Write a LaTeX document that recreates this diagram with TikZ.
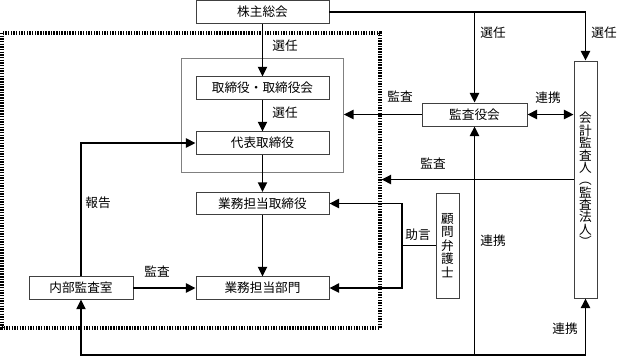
\documentclass[tikz,border=0pt]{standalone}
\usepackage{fontspec}
\setmainfont{Noto Sans CJK JP}
\usetikzlibrary{arrows.meta,fit}

\begin{document}
\begin{tikzpicture}[
  x=0.025cm, y=-0.025cm,
  >={Triangle[length=2.4mm,width=2.3mm]},
  font=\fontsize{9}{11}\selectfont,
  box/.style={draw=black!75,line width=.5pt,inner sep=0,
    minimum width=3.33cm,minimum height=.56cm},
  vbox/.style={draw=black!75,line width=.5pt,inner sep=0,
    minimum width=.58cm,align=center},
  link/.style={line width=1.1pt},
  group/.style={draw=black!50,line width=.6pt,inner xsep=.35cm,inner ysep=.45cm},
  company/.style={line width=2.2pt,dash pattern=on 1pt off .9pt},
  note/.style={inner sep=0},
]
  \def\ybot{355}
  \useasboundingbox (0,0) rectangle (617,358);
  \node[box] (agm) at (262.5,12) {株主総会};
  \node[box] (board) at (262.5,88) {取締役・取締役会};
  \node[box] (rep) at (262.5,143) {代表取締役};
  \node[box] (exec) at (262.5,203.5) {業務担当取締役};
  \node[box] (dept) at (262.5,288) {業務担当部門};
  \node[box,minimum width=2.6cm] (audit) at (81,288) {内部監査室};
  \node[box,minimum width=2.63cm,minimum height=.58cm] (kansa) at (474.5,114.5) {監査役会};
  \node[vbox,minimum height=5.93cm,font=\fontsize{9}{8.8}\selectfont] (acct) at (585.5,179.5)
    {会\\計\\監\\査\\人\\︵\\監\\査\\法\\人\\︶};
  \node[vbox,minimum height=2.63cm,font=\fontsize{9}{9.6}\selectfont] (lawyer) at (447.5,245.5)
    {顧\\問\\弁\\護\\士};
  \node[group,fit=(board)(rep)] (grp) {};
  \draw[company] (2,33) rectangle (380,328);
  \coordinate (coE) at (381.5,0);
  \coordinate (adv) at (402,245.5);

  \draw[link,->] (agm) -- (board);
  \draw[link,->] (board) -- (rep);
  \draw[link,->] (rep) -- (exec);
  \draw[link,->] (exec) -- (dept);
  \draw[link,->] (agm.east) -- (acct.north |- agm.east) -- (acct.north);
  \draw[link,->] (kansa.north |- agm.east) -- (kansa.north);
  \draw[link,->] (kansa.west) -- (grp.east |- kansa.west);
  \draw[link,<->] (kansa.east) -- (acct.west |- kansa.east);
  \draw[link,->] (acct.west) -- (coE |- acct.west);
  \draw[link,<->] (audit.south) -- (audit.south |- 0,\ybot)
    -- (acct.south |- 0,\ybot) -- (acct.south);
  \draw[link,->] (kansa.south |- 0,\ybot) -- (kansa.south);
  \draw[link,->] (audit.north) |- (rep.west);
  \draw[link,->] (audit) -- (dept);
  \draw[link] (lawyer.west) -- (adv);
  \draw[link,->] (adv) |- (exec.east);
  \draw[link,->] (adv) |- (dept.east);

  \node[note] at (285,46) {選任};
  \node[note] at (285,113) {選任};
  \node[note] at (493,33) {選任};
  \node[note] at (604,33) {選任};
  \node[note] at (400,97) {監査};
  \node[note] at (548,98) {連携};
  \node[note] at (433,164) {監査};
  \node[note] at (98,203) {報告};
  \node[note] at (157,272) {監査};
  \node[note] at (418,235) {助言};
  \node[note] at (493,241) {連携};
  \node[note] at (565,329) {連携};
\end{tikzpicture}
\end{document}
